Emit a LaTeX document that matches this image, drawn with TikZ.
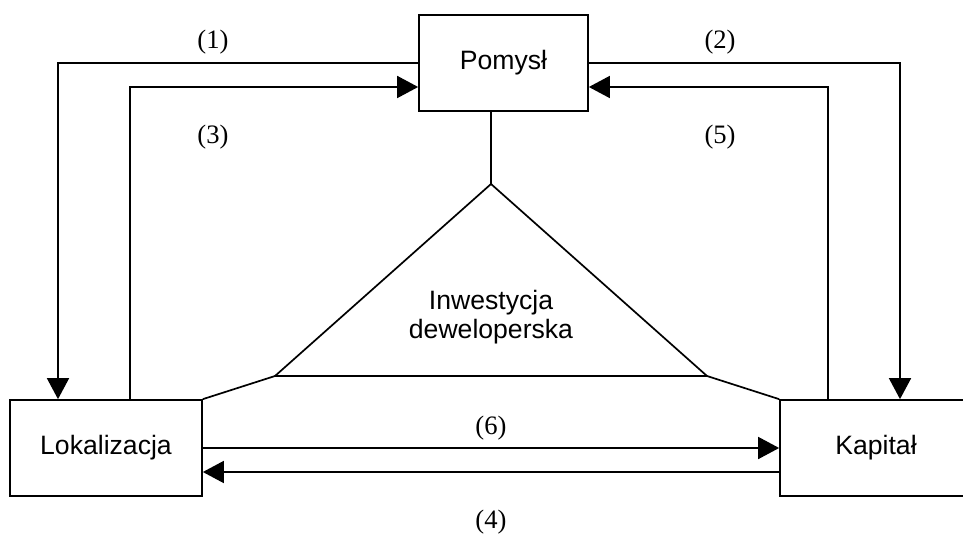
\documentclass[tikz,border=0pt]{standalone}
\usepackage{fontspec}
\setmainfont{Liberation Sans}
\newfontfamily\labelfont{Liberation Serif}
\usetikzlibrary{arrows.meta}
\tikzset{
  box/.style={draw, line width=0.85pt, minimum width=96pt, minimum height=48pt, inner sep=0pt,
    font=\fontsize{13.3}{14.5}\selectfont},
  arr/.style={line width=0.85pt, -{Triangle[length=10.5pt,width=11pt]}},
  link/.style={line width=0.85pt},
  numlabel/.style={font=\labelfont\fontsize{13.3}{14.5}\selectfont},
}
\begin{document}
\begin{tikzpicture}[x=0.5pt,y=-0.5pt]
            \useasboundingbox (0,0) rectangle (963,534);

            \node[box, minimum width=84.5pt] (pomysl) at (503.5,63) {Pomysł};
            \node[box] (lokal) at (106,448) {Lokalizacja};
            \node[box] (kapital) at (876,448) {Kapitał};

            \coordinate (apex) at (491,184);
            \coordinate (baseL) at (275,376);
            \coordinate (baseR) at (707,376);
            \node[align=center, font=\fontsize{13.3}{14.5}\selectfont] (inwest) at (491,317) {Inwestycja\\deweloperska};

            \draw[link] (apex) -- (baseL) -- (baseR) -- cycle;
            \draw[link] (pomysl.south -| apex) -- (apex);
            \draw[link] (baseL) -- (lokal.north east);
            \draw[link] (baseR) -- (kapital.north west);

            \draw[arr] (pomysl.west) -| ([xshift=-24pt]lokal.north);
            \draw[arr] ([xshift=12pt]lokal.north) |- ([yshift=-12pt]pomysl.west);
            \draw[arr] (pomysl.east) -| ([xshift=12pt]kapital.north);
            \draw[arr] ([xshift=-24pt]kapital.north) |- ([yshift=-12pt]pomysl.east);
            \draw[arr] (lokal.east) -- (kapital.west);
            \draw[arr] ([yshift=-12pt]kapital.west) -- ([yshift=-12pt]lokal.east);

            \node[numlabel] (n1) at (213,42) {(1)};
            \node[numlabel] (n2) at (720,42) {(2)};
            \node[numlabel] (n3) at (213,137) {(3)};
            \node[numlabel] (n5) at (720,137) {(5)};
            \node[numlabel] (n6) at (491,428) {(6)};
            \node[numlabel] (n4) at (491,522) {(4)};
        \end{tikzpicture}
\end{document}
